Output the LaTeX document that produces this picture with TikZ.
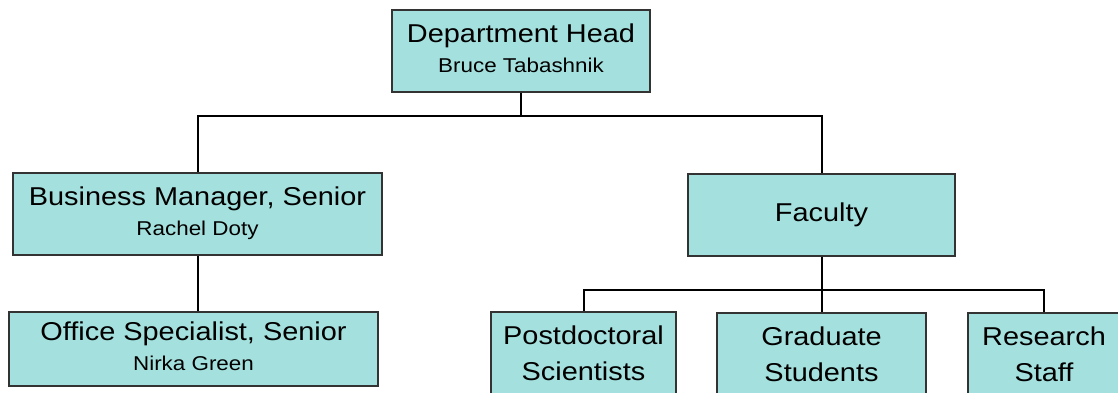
\documentclass[tikz,border=0pt]{standalone}
\usepackage{fontspec}
\setmainfont{Liberation Sans}[FakeStretch=1.12]
\definecolor{boxfill}{RGB}{164,225,222}
\newcommand{\ttl}{\fontsize{25.8}{30}\selectfont}
\newcommand{\nm}{\fontsize{20}{30}\selectfont}
\newcommand{\lift}{\rule[-6pt]{0pt}{6pt}}
\begin{document}
\begin{tikzpicture}[x=1pt,y=-1pt,
	unit/.style={draw=black!80, line width=1.2pt, fill=boxfill, align=center, inner sep=0pt, minimum height=82pt, font=\ttl},
	crew/.style={unit, font=\fontsize{25.8}{36}\selectfont},
	link/.style={line width=2pt}]
	\useasboundingbox (0,0) rectangle (1118,392);
	\node[unit, minimum width=258pt] (head) at (521,51) {Department Head\\{\nm Bruce Tabashnik\lift}};
	\node[unit, minimum width=369pt] (bm) at (197.5,214) {Business Manager, Senior\\{\nm Rachel Doty\lift}};
	\node[unit, minimum width=267pt] (fac) at (821.5,215) {Faculty};
	\node[unit, minimum width=369pt, minimum height=74pt] (office) at (193.5,349) {Office Specialist, Senior\\{\nm Nirka Green\lift}};
	\node[crew, minimum width=185pt] (post) at (583.5,353) {Postdoctoral\\Scientists};
	\node[crew, minimum width=209pt] (grad) at (821.5,354) {Graduate\\Students};
	\node[crew, minimum width=152pt] (res) at (1044,354) {Research\\Staff};
	\draw[link] (head.south) -- ++(0,23) coordinate (hub);
	\draw[link] (hub) -| (bm.north);
	\draw[link] (hub) -| (fac.north);
	\draw[link] (bm.south) -- (bm.south |- office.north);
	\draw[link] (fac.south) -- (grad.north);
	\draw[link] (fac.south) ++(0,33) coordinate (fhub) -| (post.north);
	\draw[link] (fhub) -| (res.north);
\end{tikzpicture}
\end{document}
